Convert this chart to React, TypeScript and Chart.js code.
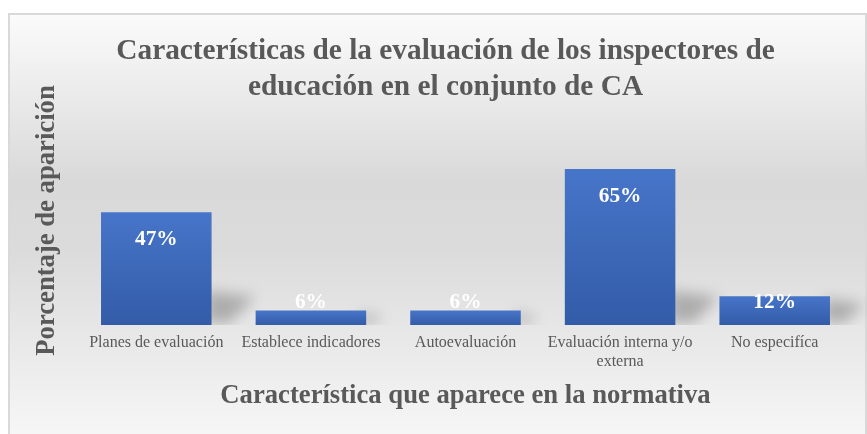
import React, { useEffect, useRef } from "react";
import { Chart, registerables } from "chart.js";

Chart.register(...registerables);

// ---- data ----
const categories: string[][] = [
  ["Planes de evaluación"],
  ["Establece indicadores"],
  ["Autoevaluación"],
  ["Evaluación interna y/o", "externa"],
  ["No especifíca"],
];
const percentages: number[] = [47, 6, 6, 65, 12];
const yAxisMax = 70;
const titleLines: string[] = [
  "Características de la evaluación de los inspectores de",
  "educación en el conjunto de CA",
];
const xAxisTitle = "Característica que aparece en la normativa";
const yAxisTitle = "Porcentaje de aparición";

const SERIF = "'Liberation Serif', 'Times New Roman', serif";
const TEXT_GRAY = "#595959";

const backgroundPlugin = {
  id: "bgPanel",
  beforeDraw(chart: any) {
    const { ctx, width, height } = chart;
    ctx.save();
    ctx.fillStyle = "#ffffff";
    ctx.fillRect(0, 0, width, height);
    const g = ctx.createLinearGradient(0, 14, 0, height);
    g.addColorStop(0, "#fbfbfb");
    g.addColorStop(0.4, "#d9d9d9");
    g.addColorStop(0.56, "#dbdbdb");
    g.addColorStop(1, "#f6f6f6");
    ctx.fillStyle = g;
    ctx.fillRect(9, 14, width - 10, height - 14);
    ctx.strokeStyle = "#d9d9d9";
    ctx.lineWidth = 2;
    ctx.strokeRect(9, 14, width - 10, height + 10);
    ctx.restore();
  },
};

const shadowPlugin = {
  id: "barShadow",
  beforeDatasetsDraw(chart: any) {
    const { ctx } = chart;
    const meta = chart.getDatasetMeta(0);
    meta.data.forEach((bar: any) => {
      const { x, y, base, width } = bar.getProps(["x", "y", "base", "width"], true);
      const right = x + width / 2;
      const h = Math.min(base - y, 36);
      ctx.save();
      ctx.beginPath();
      ctx.rect(0, 0, chart.width, base);
      ctx.clip();
      ctx.filter = "blur(7px)";
      ctx.fillStyle = "rgba(0,0,0,0.24)";
      ctx.beginPath();
      ctx.moveTo(right - 6, base - h + 2);
      ctx.lineTo(right + 1.2 * h, base - h + 8);
      ctx.lineTo(right + 0.5 * h, base - 2);
      ctx.lineTo(right - 6, base - 2);
      ctx.closePath();
      ctx.fill();
      ctx.restore();
    });
  },
};

const labelPlugin = {
  id: "barLabels",
  afterDatasetsDraw(chart: any) {
    const { ctx } = chart;
    const meta = chart.getDatasetMeta(0);
    const data = chart.data.datasets[0].data as number[];
    ctx.save();
    ctx.fillStyle = "#ffffff";
    ctx.font = `bold 21.33px ${SERIF}`;
    ctx.textAlign = "center";
    ctx.textBaseline = "alphabetic";
    meta.data.forEach((bar: any, i: number) => {
      const { x, y, base } = bar.getProps(["x", "y", "base"], true);
      const by = Math.min(y + 33, base - 17);
      ctx.fillText(`${Math.round(data[i])}%`, x, by);
    });
    ctx.restore();
  },
};

const titlesPlugin = {
  id: "customTitles",
  afterDraw(chart: any) {
    const { ctx } = chart;
    ctx.save();
    ctx.fillStyle = TEXT_GRAY;
    ctx.textAlign = "center";
    ctx.textBaseline = "middle";
    ctx.font = `bold 29.33px ${SERIF}`;
    titleLines.forEach((line, i) => {
      ctx.fillText(line, 445.5, 51 + i * 36);
    });
    ctx.translate(47, 220.5);
    ctx.rotate(-Math.PI / 2);
    ctx.font = `bold 26.67px ${SERIF}`;
    ctx.fillText(yAxisTitle, 0, 0);
    ctx.restore();
  },
};

export default function App() {
  const canvasRef = useRef<HTMLCanvasElement | null>(null);

  useEffect(() => {
    document.body.style.margin = "0";
    const canvas = canvasRef.current;
    if (!canvas) return;
    const chart = new Chart(canvas, {
      type: "bar",
      data: {
        labels: categories,
        datasets: [
          {
            data: percentages,
            barPercentage: 0.715,
            categoryPercentage: 1,
            backgroundColor: (c: any) => {
              const ch = c.chart;
              if (!ch.chartArea || c.type !== "data") return "#4472C4";
              const yS = ch.scales.y;
              const top = yS.getPixelForValue(c.raw);
              const base = yS.getPixelForValue(0);
              const g = ch.ctx.createLinearGradient(0, top, 0, base);
              g.addColorStop(0, "#4775c9");
              g.addColorStop(1, "#335ca8");
              return g;
            },
            borderWidth: 0,
          },
        ],
      },
      options: {
        responsive: false,
        animation: false,
        layout: { padding: { left: 79, right: 15, top: 157, bottom: 0 } },
        plugins: {
          legend: { display: false },
          tooltip: { enabled: false },
          title: { display: false },
        },
        scales: {
          y: {
            display: false,
            min: 0,
            max: yAxisMax,
          },
          x: {
            grid: { display: false, drawTicks: false },
            border: { display: false },
            ticks: {
              color: TEXT_GRAY,
              font: { family: SERIF, size: 16, lineHeight: 1.15 },
              padding: 9,
              autoSkip: false,
              maxRotation: 0,
              minRotation: 0,
            },
            title: {
              display: true,
              text: xAxisTitle,
              color: TEXT_GRAY,
              font: { family: SERIF, size: 26.67, weight: "bold", lineHeight: 1.2 },
              padding: { top: 0, bottom: 22 },
            },
            afterFit: (s: any) => {
              s.height = 109;
            },
          },
        },
      },
      plugins: [backgroundPlugin, shadowPlugin, labelPlugin, titlesPlugin],
    });
    return () => chart.destroy();
  }, []);

  return (
    <div style={{ position: "absolute", left: 0, top: 0, width: 867, height: 434 }}>
      <canvas ref={canvasRef} width={867} height={434} style={{ width: 867, height: 434 }} />
    </div>
  );
}
